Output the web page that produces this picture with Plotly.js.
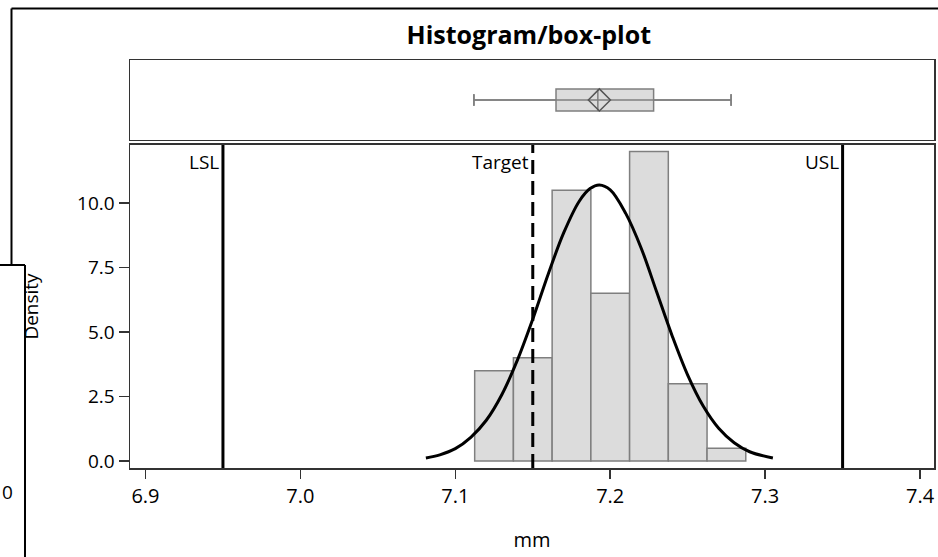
<!DOCTYPE html>
<html>
<head>
<meta charset="utf-8">
<script src="https://cdn.plot.ly/plotly-3.0.1.min.js"></script>
<style>html,body{margin:0;padding:0;background:#fff;}#chart{width:938px;height:557px;}</style>
</head>
<body>
<div id="chart"></div>
<script>
// ---- data ----
const binCenters = [7.125, 7.15, 7.175, 7.2, 7.225, 7.25, 7.275];
const binWidth = 0.025;
const density = [3.5, 4.0, 10.5, 6.5, 12.0, 3.0, 0.5];

const curveX = [7.081, 7.090, 7.100, 7.110, 7.120, 7.130, 7.140, 7.150, 7.160, 7.170, 7.180, 7.187, 7.193,
                7.200, 7.210, 7.220, 7.230, 7.240, 7.250, 7.260, 7.270, 7.280, 7.290, 7.305];
const curveY = [0.12, 0.24, 0.48, 0.92, 1.58, 2.57, 3.90, 5.50, 7.25, 8.85, 10.07, 10.56, 10.70,
                10.51, 9.60, 8.25, 6.55, 4.85, 3.33, 2.13, 1.27, 0.71, 0.36, 0.12];

const boxLow = 7.112, boxQ1 = 7.165, boxMedian = 7.192, boxQ3 = 7.228, boxHigh = 7.278, boxMean = 7.193;

const specNames = ['LSL', 'Target', 'USL'];
const specValues = [6.95, 7.15, 7.35];
const specDash = ['solid', '14px,7px', 'solid'];

const xTicks = [6.9, 7.0, 7.1, 7.2, 7.3, 7.4];
const xTickText = ['6.9', '7.0', '7.1', '7.2', '7.3', '7.4'];
const yTicks = [0, 2.5, 5, 7.5, 10];
const yTickText = ['0.0', '2.5', '5.0', '7.5', '10.0'];

// ---- traces ----
const FONT = 'Open Sans, Noto Sans, sans-serif';
const AX = '#333333';

const traces = [
  {
    type: 'bar', x: binCenters, y: density, width: binWidth,
    marker: {color: '#dcdcdc', line: {color: '#7f7f7f', width: 1.5}},
    xaxis: 'x', yaxis: 'y', hoverinfo: 'skip', showlegend: false
  },
  {
    type: 'scatter', mode: 'lines', x: curveX, y: curveY,
    line: {color: '#000', width: 3, shape: 'spline'},
    xaxis: 'x', yaxis: 'y', showlegend: false
  },
  {
    type: 'scatter', mode: 'markers', x: [boxMedian], y: [0],
    marker: {opacity: 0, size: 1},
    error_x: {type: 'data', symmetric: false, array: [boxHigh - boxMedian], arrayminus: [boxMedian - boxLow],
              color: '#7f7f7f', thickness: 1.5, width: 6},
    xaxis: 'x2', yaxis: 'y2', showlegend: false
  },
  {
    type: 'box', orientation: 'h', y: [0],
    q1: [boxQ1], median: [boxMedian], q3: [boxQ3], lowerfence: [boxLow], upperfence: [boxHigh],
    width: 0.55, fillcolor: '#dcdcdc', line: {color: '#7f7f7f', width: 1.5},
    boxpoints: false, xaxis: 'x2', yaxis: 'y2', showlegend: false
  },
  {
    type: 'scatter', mode: 'markers', x: [boxMean], y: [0],
    marker: {symbol: 'diamond-open', size: 17, color: '#555', line: {color: '#555', width: 1.5}},
    xaxis: 'x2', yaxis: 'y2', showlegend: false
  }
];

// ---- shapes & annotations ----
const shapes = specValues.map((v, i) => ({
  type: 'line', xref: 'x', yref: 'y domain', x0: v, x1: v, y0: 0, y1: 1,
  line: {color: '#000', width: 3, dash: specDash[i]}, layer: 'above'
}));
// outer frame fragments seen in the reference image
const frame = {color: '#000', width: 2};
shapes.push(
  {type: 'line', xref: 'paper', yref: 'paper', x0: -0.1474, x1: 1.01, y0: 1.1262, y1: 1.1262, line: frame},
  {type: 'line', xref: 'paper', yref: 'paper', x0: -0.1474, x1: -0.1474, y0: 1.1262, y1: 0.4975, line: frame},
  {type: 'line', xref: 'paper', yref: 'paper', x0: -0.17, x1: -0.1306, y0: 0.4975, y1: 0.4975, line: frame},
  {type: 'line', xref: 'paper', yref: 'paper', x0: -0.1306, x1: -0.1306, y0: 0.4975, y1: -0.25, line: frame}
);

const annotations = specNames.map((n, i) => ({
  text: n, xref: 'x', yref: 'y domain', x: specValues[i], y: 1,
  xanchor: 'right', yanchor: 'top', xshift: -2, yshift: -2, showarrow: false,
  font: {family: FONT, size: 19, color: '#000'}
}));
annotations.push({
  text: '0', xref: 'paper', yref: 'paper', x: -0.1617, y: -0.06,
  xanchor: 'left', yanchor: 'middle', showarrow: false,
  font: {family: FONT, size: 19, color: '#000'}
});

const layout = {
  width: 938, height: 557,
  margin: {l: 130, r: 4, t: 60, b: 89, pad: 0},
  paper_bgcolor: '#fff', plot_bgcolor: '#fff',
  font: {family: FONT, color: '#000'},
  showlegend: false,
  title: {text: '<b>Histogram/box-plot</b>', font: {family: FONT, size: 25, color: '#000'},
          xref: 'paper', x: 0.496, xanchor: 'center', yref: 'container', y: 0.937, yanchor: 'middle'},
  xaxis: {
    anchor: 'y', range: [6.89, 7.409], tickvals: xTicks, ticktext: xTickText,
    ticks: 'outside', ticklen: 9, tickwidth: 1.5, tickcolor: AX,
    showline: true, linecolor: AX, linewidth: 1.5, mirror: true,
    showgrid: false, zeroline: false, tickfont: {family: FONT, size: 20, color: '#000'},
    title: {text: 'mm', font: {family: FONT, size: 20, color: '#000'}, standoff: 25}, automargin: false
  },
  yaxis: {
    domain: [0, 0.7917], range: [-0.27, 12.25], tickvals: yTicks, ticktext: yTickText,
    ticks: 'outside', ticklen: 10, tickwidth: 1.5, tickcolor: AX,
    showline: true, linecolor: AX, linewidth: 1.5, mirror: true,
    showgrid: false, zeroline: false, tickfont: {family: FONT, size: 19, color: '#000'},
    title: {text: 'Density', font: {family: FONT, size: 19, color: '#000'}, standoff: 33}, automargin: false
  },
  xaxis2: {
    anchor: 'y2', matches: 'x', showticklabels: false, ticks: '',
    showline: true, linecolor: AX, linewidth: 1.5, mirror: true, showgrid: false, zeroline: false
  },
  yaxis2: {
    domain: [0.804, 1], range: [-1, 1], anchor: 'x2', showticklabels: false, ticks: '',
    showline: true, linecolor: AX, linewidth: 1.5, mirror: true, showgrid: false, zeroline: false
  },
  shapes: shapes,
  annotations: annotations
};

Plotly.newPlot('chart', traces, layout, {staticPlot: true, displayModeBar: false});
</script>
</body>
</html>
